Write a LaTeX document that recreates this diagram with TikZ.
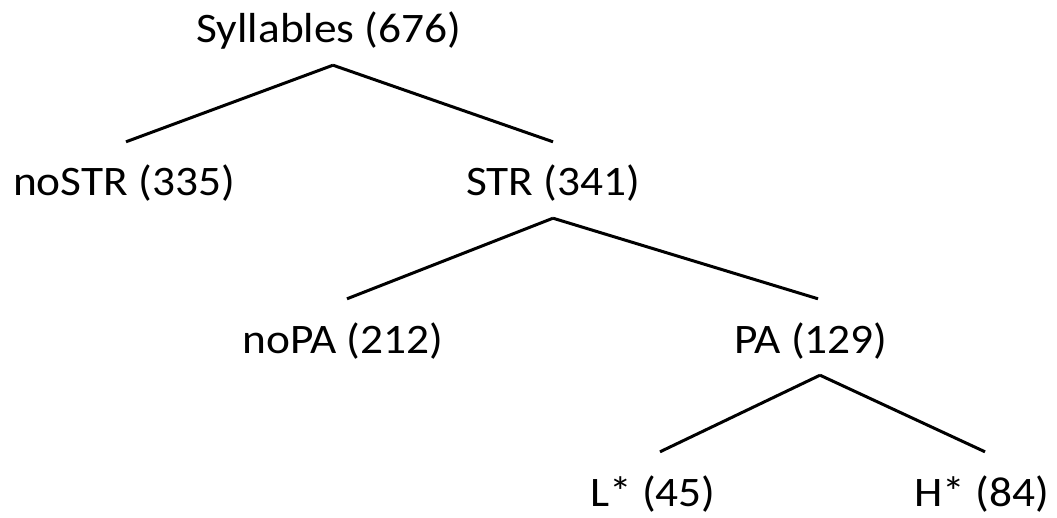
\documentclass[tikz,border=0pt]{standalone}
\usepackage{fontspec}
\setmainfont{Carlito}[FakeStretch=1.08]
\begin{document}
\begin{tikzpicture}[x=1pt,y=-1pt,
  lbl/.style={anchor=base,inner sep=0pt,text height=54pt,text depth=22pt,
    font=\fontsize{42}{48}\selectfont},
  edge/.style={line width=3pt,line cap=butt}]
\useasboundingbox (0,0) rectangle (1057,518);
% tree labels (positions give the baselines)
\node[lbl] (syl)   at (329,43)  {Syllables (676)};
\node[lbl] (nostr) at (124,196) {noSTR (335)};
\node[lbl] (str)   at (553,196) {STR (341)};
\node[lbl] (nopa)  at (343,353) {noPA (212)};
\node[lbl] (pa)    at (811,353) {PA (129)};
\node[lbl] (lstar) at (653,506) {L* (45)};
\node[lbl] (hstar) at (982,506) {H* (84)};
% branches
\draw[edge] ([xshift=4pt]syl.south) -- ([xshift=2pt]nostr.north);
\draw[edge] ([xshift=4pt]syl.south) -- (str.north);
\draw[edge] (str.south) -- ([xshift=4pt]nopa.north);
\draw[edge] (str.south) -- ([xshift=7pt]pa.north);
\draw[edge] ([xshift=9pt]pa.south) -- ([xshift=7pt]lstar.north);
\draw[edge] ([xshift=9pt]pa.south) -- ([xshift=3pt]hstar.north);
\end{tikzpicture}
\end{document}
